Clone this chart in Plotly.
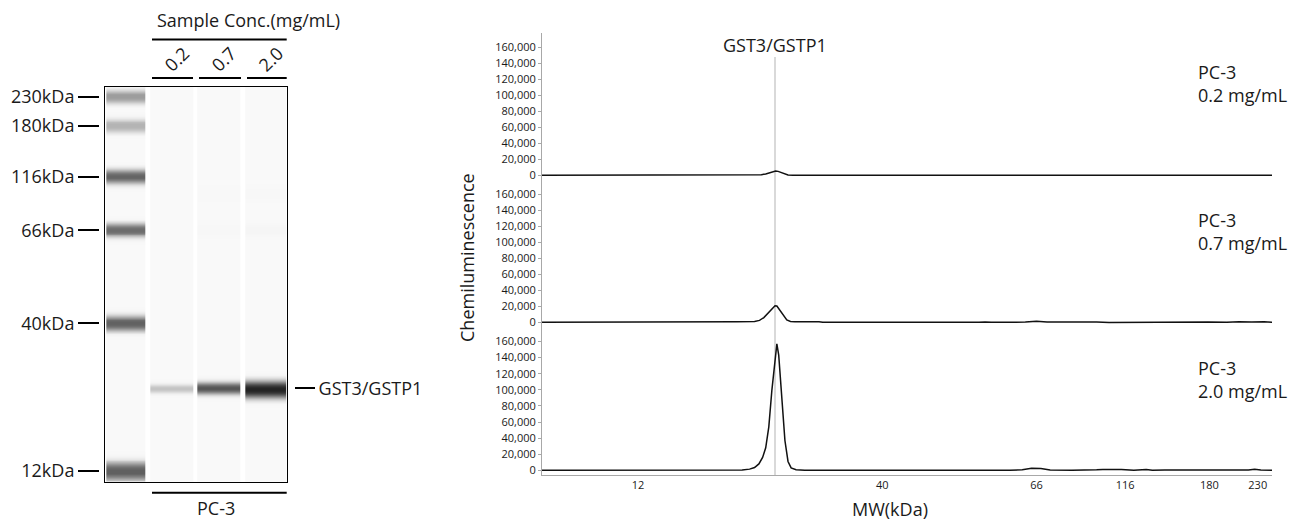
import numpy as np
import plotly.graph_objects as go

W, H = 1297, 527

# ---------------- data ----------------
ladder_mw = [12, 40, 66, 116, 180, 230]
ladder_labels = ["12", "40", "66", "116", "180", "230"]
ladder_pos = [0.0, 39.4, 64.3, 78.6, 92.2, 100.0]        # migration position (12 kDa = 0, 230 kDa = 100)
ladder_band_int = [0.60, 0.59, 0.55, 0.58, 0.27, 0.36]   # band darkness 0..1

target_name = "GST3/GSTP1"
target_pos = 22.1
cell_line = "PC-3"
sample_conc = ["0.2", "0.7", "2.0"]
sample_band_int = [0.21, 0.64, 0.84]
faint_pos = [64.3, 74.0]
faint_int = [[0.0, 0.0], [0.008, 0.004], [0.014, 0.008]]

trace_x_02 = [-15.5, 18.5, 19.4, 19.9, 20.6, 21.3, 21.8, 22.2, 22.6, 23.1, 23.6, 24.2, 25.0,
              62.5, 64.2, 66.0, 102.3]
trace_y_02 = [0, 0, 300, 800, 1800, 3500, 4800, 5500, 5000, 3300, 1500, 400, 0,
              0, 700, 0, 0]

trace_x_07 = [-15.5, 15.5, 16.0, 18.8, 19.6, 20.3, 21.0, 21.6, 22.1, 22.4, 22.9, 23.5, 24.0, 24.6,
              25.3, 29.2, 29.8, 55.0, 56.0, 57.0, 62.5, 64.3, 66.0, 68.0, 70.0, 72.0, 74.0, 76.0,
              84.0, 86.0, 88.0, 90.0, 92.0, 95.0, 97.0, 99.0, 101.0, 102.3]
trace_y_07 = [0, 0, 800, 1000, 2500, 6000, 12000, 17500, 20800, 20500, 15000, 8000, 3000, 1200,
              900, 800, 0, 0, 500, 0, 300, 1500, 500, 300, 600, 0, 300, -300,
              0, 600, 300, 900, 400, 0, 700, 400, 900, 0]

trace_x_20 = [-15.5, 15.5, 16.8, 18.0, 18.8, 19.5, 20.1, 20.6, 21.1, 21.6, 22.1, 22.4, 22.7, 23.2,
              23.7, 24.2, 24.7, 25.5, 26.9, 60.0, 62.0, 63.5, 65.0, 66.5, 70.0, 74.0, 75.0, 78.0,
              80.0, 82.0, 83.0, 85.0, 95.0, 98.5, 99.5, 100.5, 102.3]
trace_y_20 = [0, 0, 300, 1500, 3500, 8000, 16000, 28000, 54000, 100000, 138000, 157000, 143000, 92000,
              37000, 11000, 3000, 700, 0, 0, 800, 2500, 2200, 300, 0, 600, 1000, 900,
              0, 900, 0, 400, 0, 300, 1400, 500, 0]

y_ticks = [0, 20000, 40000, 60000, 80000, 100000, 120000, 140000, 160000]

# ---------------- styling / geometry ----------------
FONT = "Open Sans"
TXT = "#1a1a1a"
ladder_half_w = [2.5, 2.0, 1.75, 1.85, 1.75, 1.75]
sample_half_w = [1.15, 1.6, 2.25]
sample_center_shift = [-0.2, -0.1, -0.4]
band_exp = 2.6
lane_bg = 0.025

def px(xp):
    return xp / W

def py(yp):
    return 1 - yp / H

# blot box in pixels
BX0, BX1, BY0, BY1 = 105.3, 286.7, 86.7, 481.7
blot_range = [-2.9, 102.7]
# lane column edges (x in pixels from blot left edge)
x_edges = [0, 0.7, 39.7, 44.7, 87.7, 91.7, 134.7, 139.7, 180.7, BX1 - BX0]
y_edges = np.linspace(blot_range[0], blot_range[1], 424)
yc = 0.5 * (y_edges[:-1] + y_edges[1:])

def band(center, inten, hw):
    return inten * np.exp(-np.abs((yc - center) / hw) ** band_exp)

lanes = []
lad = np.full_like(yc, lane_bg)
for p, it, hw in zip(ladder_pos, ladder_band_int, ladder_half_w):
    lad = lad + band(p - (0.2 if p == 0 else 0), it, hw)
lanes.append(lad)
for i in range(3):
    col = np.full_like(yc, lane_bg)
    col = col + band(target_pos + sample_center_shift[i], sample_band_int[i], sample_half_w[i])
    for fp, fi in zip(faint_pos, faint_int[i]):
        col = col + band(fp, fi, 1.6)
    lanes.append(col)
gap = np.zeros_like(yc)
cols = [gap, lanes[0], gap, lanes[1], gap, lanes[2], gap, lanes[3], gap]
z = np.clip(np.stack(cols, axis=1), 0, 1)

fig = go.Figure()
fig.add_trace(go.Heatmap(
    x=x_edges, y=y_edges, z=z, xaxis="x", yaxis="y",
    colorscale=[[0, "#ffffff"], [1, "#000000"]], zmin=0, zmax=1,
    showscale=False, hoverinfo="skip"))
# carrier traces so the ladder / target tick axes get drawn
fig.add_trace(go.Scatter(x=[None], y=[None], xaxis="x", yaxis="y5", showlegend=False, hoverinfo="skip"))
fig.add_trace(go.Scatter(x=[None], y=[None], xaxis="x", yaxis="y6", showlegend=False, hoverinfo="skip"))

for xs, ys, ya in [(trace_x_20, trace_y_20, "y2"), (trace_x_07, trace_y_07, "y3"),
                   (trace_x_02, trace_y_02, "y4")]:
    fig.add_trace(go.Scatter(x=xs, y=ys, xaxis="x2", yaxis=ya, mode="lines",
                             line=dict(color="#111111", width=1.5), hoverinfo="skip",
                             showlegend=False))

yax_common = dict(anchor="x2", range=[-5800, 178000], tickvals=y_ticks, tickformat=",d",
                  showline=True, linecolor="#a8a8a8", linewidth=1, ticks="outside",
                  ticklen=3, tickcolor="#a8a8a8", showgrid=False, zeroline=False,
                  tickfont=dict(family=FONT, size=11, color=TXT))

fig.update_layout(
    width=W, height=H, margin=dict(l=0, r=0, t=0, b=0, autoexpand=False),
    paper_bgcolor="white", plot_bgcolor="rgba(0,0,0,0)", showlegend=False,
    xaxis=dict(domain=[px(BX0), px(BX1)], range=[0, BX1 - BX0], anchor="y",
               showline=True, mirror=True, linecolor="black", linewidth=1,
               showticklabels=False, ticks="", showgrid=False, zeroline=False),
    yaxis=dict(domain=[py(BY1), py(BY0)], range=blot_range, anchor="x",
               showline=True, mirror=True, linecolor="black", linewidth=1,
               showticklabels=False, ticks="", showgrid=False, zeroline=False),
    yaxis5=dict(overlaying="y", anchor="free", position=px(99), side="left",
                range=blot_range, tickvals=ladder_pos,
                ticktext=[f"{m}kDa" for m in ladder_mw],
                ticks="outside", ticklen=21, tickwidth=2, tickcolor="black",
                showline=False, showgrid=False, zeroline=False,
                tickfont=dict(family=FONT, size=18, color=TXT)),
    yaxis6=dict(overlaying="y", anchor="free", position=px(294), side="right",
                range=blot_range, tickvals=[target_pos], ticktext=[target_name],
                ticks="outside", ticklen=20, tickwidth=2, tickcolor="black",
                showline=False, showgrid=False, zeroline=False,
                tickfont=dict(family=FONT, size=18, color=TXT)),
    xaxis2=dict(domain=[px(542), px(1272)], range=[-15.5, 102.3], anchor="y2",
                tickvals=ladder_pos, ticktext=ladder_labels, ticks="",
                showline=True, linecolor="#a8a8a8", linewidth=1,
                showgrid=False, zeroline=False,
                tickfont=dict(family=FONT, size=11, color=TXT)),
    yaxis2=dict(domain=[py(475), py(327)], **yax_common),
    yaxis3=dict(domain=[py(327), py(180)], **yax_common),
    yaxis4=dict(domain=[py(180), py(33)], **yax_common),
)

shapes = []
shapes.append(dict(type="line", xref="x2", yref="paper", x0=target_pos, x1=target_pos,
                   y0=py(475), y1=py(57), line=dict(color="#d9d9d9", width=2), layer="below"))
for (a, b, yy) in [(46.7, 181.7, 39.5), (46.7, 87.7, 78), (93.7, 135.7, 78),
                   (141.7, 181.7, 78), (46.7, 181.7, 492.7)]:
    shapes.append(dict(type="line", xref="x", yref="paper", x0=a, x1=b, y0=py(yy), y1=py(yy),
                       line=dict(color="black", width=2)))
fig.update_layout(shapes=shapes)

def note(text, x, y, xref="paper", **kw):
    d = dict(text=text, x=x, y=y, xref=xref, yref="paper", showarrow=False,
             xanchor="center", yanchor="middle",
             font=dict(family=FONT, size=18, color=TXT))
    d.update(kw)
    return d

ann = []
ann.append(note("Sample Conc.(mg/mL)", px(248), py(20)))
for i, c in enumerate(sample_conc):
    xc = (x_edges[3 + 2 * i] + x_edges[4 + 2 * i]) / 2 + 5
    ann.append(note(c, xc, py(59), xref="x", textangle=-45))
ann.append(note(cell_line, px(216), py(508)))
ann.append(note(target_name, target_pos, py(45), xref="x2"))
ann.append(note("Chemiluminescence", px(467), py(258), textangle=-90))
ann.append(note("MW(kDa)", px(890), py(509)))
for c, yy in zip(sample_conc, [83.5, 231.5, 379]):
    ann.append(note(f"{cell_line}<br>{c} mg/mL", px(1196), py(yy), xanchor="left", align="left"))
fig.update_layout(annotations=ann)

fig.write_html("out.html", config={"displayModeBar": False})
with open("out.html", "r", encoding="utf-8") as f:
    html = f.read()
html = html.replace("<head>", "<head><style>html,body{margin:0;padding:0;overflow:hidden;}</style>", 1)
with open("out.html", "w", encoding="utf-8") as f:
    f.write(html)
